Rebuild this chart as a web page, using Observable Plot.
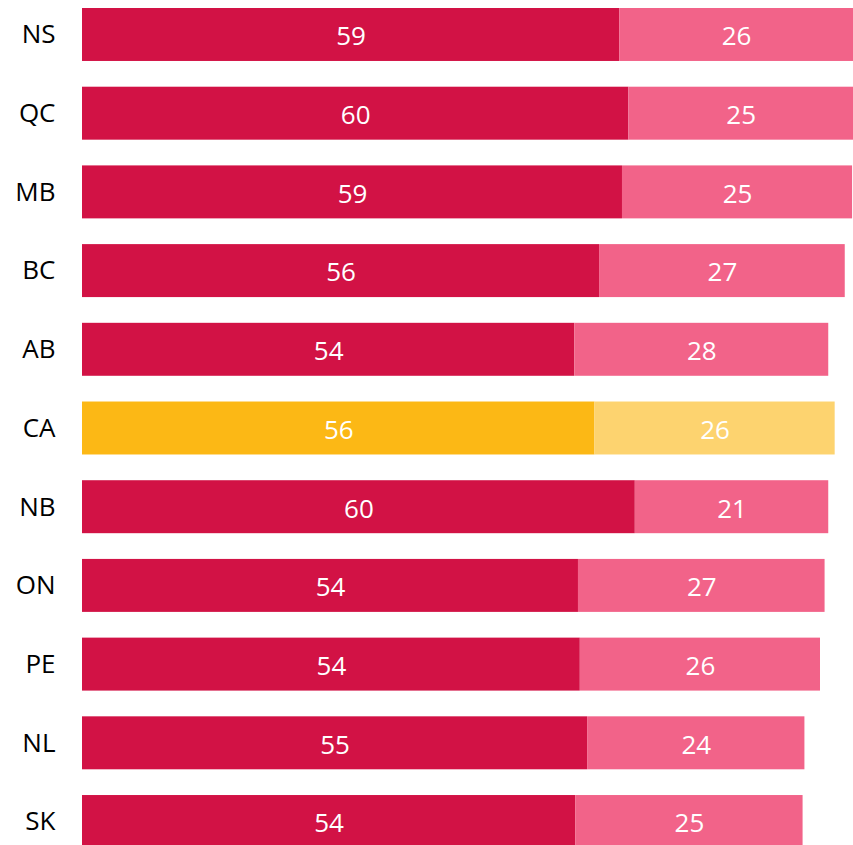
<!DOCTYPE html>
<html>
<head>
<meta charset="utf-8">
<script src="https://cdn.jsdelivr.net/npm/d3@7"></script>
<script src="https://cdn.jsdelivr.net/npm/@observablehq/plot@0.6"></script>
<style>
  html, body { margin: 0; padding: 0; overflow: hidden; background: #fff; }
  #chart svg { display: block; }
</style>
</head>
<body>
<div id="chart"></div>
<script>
const provinces = ["NS", "QC", "MB", "BC", "AB", "CA", "NB", "ON", "PE", "NL", "SK"];
const firstValues  = [58.6, 59.6, 58.9, 56.4, 53.7, 55.9, 60.3, 54.1, 54.3, 55.1, 53.8];
const secondValues = [25.5, 24.5, 25.1, 26.8, 27.7, 26.2, 21.1, 26.9, 26.2, 23.7, 24.8];
const highlight = "CA";

const rows = [];
provinces.forEach((p, i) => {
  rows.push({province: p, segment: "first", value: firstValues[i], key: (p === highlight ? "hl-" : "") + "first"});
  rows.push({province: p, segment: "second", value: secondValues[i], key: (p === highlight ? "hl-" : "") + "second"});
});

const chart = Plot.plot({
  width: 853,
  height: 845,
  marginLeft: 82,
  marginRight: 0,
  marginTop: 0,
  marginBottom: 0,
  style: {fontFamily: "'Open Sans', sans-serif", fontSize: "26px", color: "#000", background: "#fff"},
  x: {axis: null, domain: [0, d3.max(provinces.map((p, i) => firstValues[i] + secondValues[i]))]},
  y: {domain: provinces, range: [8, 848], paddingInner: 0.327, paddingOuter: 0, round: false, tickSize: 0, tickPadding: 27, label: null},
  color: {domain: ["first", "second", "hl-first", "hl-second"], range: ["#D21245", "#F26389", "#FCB815", "#FDD36F"]},
  marks: [
    Plot.barX(rows, Plot.stackX({x: "value", y: "province", fill: "key", z: "segment"})),
    Plot.text(rows, Plot.stackX({x: "value", y: "province", z: "segment", text: d => Math.round(d.value), fill: "white", fontSize: 26, dy: 2}))
  ]
});
document.getElementById("chart").appendChild(chart);
</script>
</body>
</html>
